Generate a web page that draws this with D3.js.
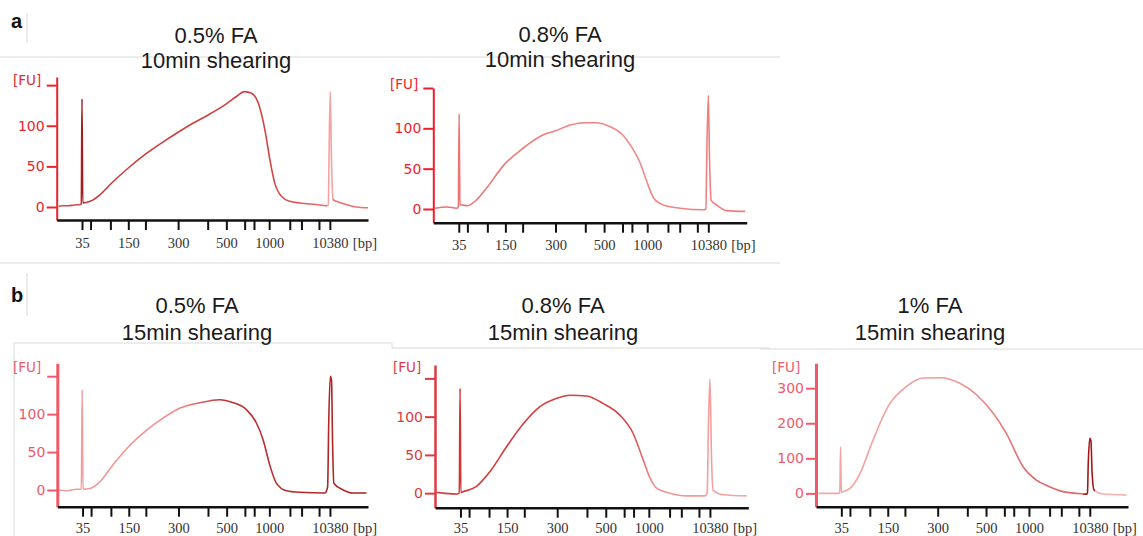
<!DOCTYPE html>
<html>
<head>
<meta charset="utf-8">
<script src="https://cdn.jsdelivr.net/npm/d3@7"></script>
<style>
  body { margin: 0; background: #fff; }
  svg { display: block; }
</style>
</head>
<body>
<svg id="chart" width="1143" height="536"></svg>
<script>
// ladder peaks: size (bp) and migration time (s)
const ladderBp = [35, 50, 100, 150, 200, 300, 400, 500, 600, 700, 1000, 2000, 3000, 7000, 10380]
const ladderTime = [46.5, 48.7, 53.8, 58.4, 62.8, 71.2, 78.8, 83.6, 88.3, 90.7, 94.6, 99.9, 102.9, 107.4, 110.2]
const labeledBp = [35, 150, 300, 500, 1000, 10380]

const sectionLabels = ["a", "b"]
const titleLines = [
	["0.5% FA", "10min shearing"],
	["0.8% FA", "10min shearing"],
	["0.5% FA", "15min shearing"],
	["0.8% FA", "15min shearing"],
	["1% FA", "15min shearing"]
]

// [time s, FU]
const traceA1 = [[40.5, 1], [41.3, 1.6], [43, 1.5], [44.5, 2.5], [46.0, 3], [46.3, 3.5], [46.5, 133], [46.7, 5], [48.6, 7],
	[51.1, 15], [53.8, 28], [58.4, 48], [62.8, 65], [67, 79], [71.2, 92], [75, 103], [78.8, 113], [83.6, 127], [86.2, 136],
	[88.3, 142], [90.1, 140], [91.8, 128], [93.5, 95], [94.8, 58], [96.0, 30], [97.8, 13], [99.9, 7], [102.5, 5],
	[106.7, 3], [109.3, 1.6], [109.8, 2], [110.0, 68], [110.3, 142], [110.6, 62], [111.0, 9], [111.9, 7], [114.4, 3],
	[117, 0], [120, -1]]
const traceA2 = [[40.4, 1], [43.4, 2.5], [46.0, 1], [46.4, 3], [46.6, 118], [46.8, 5], [47.2, 5], [48.7, 4], [51.1, 11.5],
	[53.6, 26], [58.1, 55], [62.8, 75], [68.1, 92], [71.2, 97], [74.9, 104], [78.6, 107], [81.7, 107], [85.1, 102],
	[88.3, 92], [90.6, 77], [92.8, 57], [94.5, 34], [96.2, 14], [98.7, 5], [103.0, 1], [108.9, -1], [109.6, 0],
	[109.8, 65], [110.2, 141], [110.5, 65], [110.9, 11], [112.3, 5], [114.9, -2], [119.6, -3]]
const traceB1 = [[40.3, 0], [42.4, -1], [45.0, 1], [46.2, 1], [46.4, 132], [46.6, 1], [48.4, 2], [51.0, 11], [54.0, 31],
	[58.7, 59], [63.0, 79], [67.3, 95], [71.6, 108], [76.7, 115], [81.8, 119], [85.3, 115], [88.7, 106], [91.3, 88],
	[93.0, 66], [94.7, 33], [96.4, 9], [99.0, -1], [102.4, -3], [108.9, -4], [109.6, 4], [109.9, 92], [110.3, 150],
	[110.6, 145], [110.9, 57], [111.2, 9], [113.6, 0], [116.1, -4], [119.6, -4]]
const traceB2 = [[40.4, 1], [45.5, -1], [46.2, 0], [46.4, 137], [46.6, 1], [47.2, 2], [50.6, 9], [54.0, 28], [58.3, 61],
	[62.6, 91], [66.8, 113], [71.1, 124], [74.5, 128], [78.7, 127], [83.0, 117], [87.2, 102], [90.6, 78], [93.2, 43],
	[94.9, 20], [96.6, 6.5], [100.0, 0], [104.3, -3.5], [108.9, -3.5], [109.5, 0], [109.8, 83], [110.2, 149],
	[110.6, 48], [111.0, 4], [113.6, -2], [119.6, -3.5]]
const traceB3 = [[40.6, 0], [45.7, 0], [46.1, 2], [46.3, 133], [46.5, 3], [47.0, 5], [48.7, 14], [51.3, 57], [54.3, 143],
	[58.5, 248], [63.2, 305], [67.5, 329], [71.8, 330], [76.9, 314], [81.2, 281], [85.4, 229], [88.8, 171], [93.1, 76],
	[96.5, 38], [99.9, 19], [103.3, 5], [106.8, 0], [109.3, -2], [109.6, 0], [109.8, 81], [110.2, 157], [110.5, 150],
	[110.8, 57], [111.3, 9], [113.6, -2], [119.6, -5]]

const traces = [traceA1, traceA2, traceB1, traceB2, traceB3]
const yTicksSmall = [0, 50, 100, 150]
const yTicksLarge = [0, 100, 200, 300]

// layout / styling for each panel
const panels = [
	{left: 56.7, right: 368, top: 77, axisY: 220, yDomain: [-16, 160], ticks: yTicksSmall, hideTop: true,
		fu: [13, 85], title: [216, 43, 68], labelY: 248, axisColor: "#e8242c", axisW: 2,
		stops: [[40, "#d04848"], [46.2, "#d04848"], [46.2, "#a02020"], [46.9, "#a02020"], [46.9, "#c83c3c"],
			[95, "#d04444"], [109.5, "#e67070"], [109.5, "#f5a2a2"], [111, "#f5a2a2"], [111, "#e87070"], [120, "#e87070"]]},
	{left: 433.3, right: 746.7, top: 88, axisY: 222.7, yDomain: [-17, 150], ticks: yTicksSmall, hideTop: true,
		fu: [390, 89], title: [560, 42, 67], labelY: 250, axisColor: "#f01e2a", axisW: 2,
		stops: [[40, "#ee7070"], [60, "#f07878"], [90, "#f28a8a"], [120, "#f07a7a"]]},
	{left: 57.3, right: 368, top: 363.3, axisY: 506.7, yDomain: [-22, 167], ticks: yTicksSmall, hideTop: true,
		fu: [13, 372], title: [197, 313, 340], labelY: 533, axisColor: "#f05a68", axisW: 3,
		stops: [[40, "#f2a0a0"], [72, "#f08888"], [82, "#c23434"], [120, "#a82222"]]},
	{left: 435, right: 748.3, top: 365, axisY: 507.7, yDomain: [-19, 167.5], ticks: yTicksSmall, hideTop: true,
		fu: [393, 372], title: [563, 313, 340], labelY: 533, axisColor: "#dc3a44", axisW: 2.5,
		stops: [[40, "#d84848"], [46.2, "#d43030"], [47, "#d43838"], [90, "#d64444"], [96, "#f09090"],
			[120, "#f7a8a8"]]},
	{left: 816, right: 1128, top: 363.3, axisY: 506.7, yDomain: [-38, 371], ticks: yTicksLarge, hideTop: false,
		fu: [772, 372], title: [930, 313, 340], labelY: 533, axisColor: "#f05a6a", axisW: 3,
		stops: [[40, "#f5aaaa"], [80, "#f09292"], [95, "#e06666"], [108.5, "#e06666"], [108.5, "#a01818"],
			[111.6, "#a01818"], [111.6, "#f6b0b0"], [120, "#f6b0b0"]]}
]

const svg = d3.select("#chart")
svg.append("rect").attr("width", 1143).attr("height", 536).attr("fill", "#fff")

// frames from the pasted screenshots
const frame = svg.append("g").attr("stroke", "#d9d9d9").attr("stroke-width", 1).attr("fill", "none")
frame.append("path").attr("d", "M0,57H780 M0,263H780 M27,13V43 M27,273V316 M14,536V343H392V348H770 M760,349H1143")

svg.selectAll(".section")
	.data(sectionLabels)
	.join("text")
		.attr("x", 11)
		.attr("y", (d, i) => i ? 302 : 28)
		.attr("font-family", "Liberation Sans, Arial, sans-serif")
		.attr("font-weight", "bold")
		.attr("font-size", 20)
		.attr("fill", "#111")
		.text(d => d)

const lineGen = d3.line().curve(d3.curveMonotoneX)

panels.forEach((p, i) => {
	const g = svg.append("g")
	const x = d3.scaleLinear().domain([40, 120]).range([p.left, p.right])
	const y = d3.scaleLinear().domain(p.yDomain).range([p.axisY, p.top])

	// titles
	g.selectAll(".title")
		.data(titleLines[i])
		.join("text")
			.attr("x", p.title[0])
			.attr("y", (d, j) => p.title[1 + j])
			.attr("text-anchor", "middle")
			.attr("font-family", "Liberation Sans, Arial, sans-serif")
			.attr("font-size", 22)
			.attr("fill", "#1a1a1a")
			.text(d => d)

	// trace colour along x
	const gradId = "grad" + i
	const grad = svg.append("defs").append("linearGradient")
		.attr("id", gradId)
		.attr("gradientUnits", "userSpaceOnUse")
		.attr("x1", x(40)).attr("x2", x(120)).attr("y1", 0).attr("y2", 0)
	grad.selectAll("stop")
		.data(p.stops)
		.join("stop")
			.attr("offset", d => (d[0] - 40) / 80)
			.attr("stop-color", d => d[1])

	g.append("path")
		.datum(traces[i])
		.attr("d", lineGen.x(d => x(d[0])).y(d => y(d[1])))
		.attr("fill", "none")
		.attr("stroke", `url(#${gradId})`)
		.attr("stroke-width", 1.6)
		.attr("stroke-linejoin", "round")

	// y axis
	const yAxis = g.append("g")
		.attr("transform", `translate(${p.left},0)`)
		.call(d3.axisLeft(y)
			.tickValues(p.ticks)
			.tickSize(10)
			.tickSizeOuter(0)
			.tickFormat(d => (p.hideTop && d === 150) ? "" : d))
	yAxis.select(".domain").attr("stroke", p.axisColor).attr("stroke-width", p.axisW)
	yAxis.selectAll(".tick line").attr("stroke", p.axisColor).attr("stroke-width", 2)
	yAxis.selectAll(".tick text")
		.attr("fill", p.axisColor)
		.attr("font-family", "DejaVu Sans, Verdana, sans-serif")
		.attr("font-size", 14)
		.attr("x", -12)

	g.append("text")
		.attr("x", p.fu[0])
		.attr("y", p.fu[1])
		.attr("fill", p.axisColor)
		.attr("font-family", "DejaVu Sans, Verdana, sans-serif")
		.attr("font-size", 13.5)
		.text("[FU]")

	// x axis with ladder sizes
	const xAxis = g.append("g")
		.attr("transform", `translate(0,${p.axisY})`)
		.call(d3.axisBottom(x)
			.tickValues(ladderTime)
			.tickSize(10)
			.tickSizeOuter(0)
			.tickFormat((d, j) => labeledBp.includes(ladderBp[j]) ? ladderBp[j] : ""))
	xAxis.select(".domain").attr("stroke", "#111").attr("stroke-width", 2.5)
	xAxis.selectAll(".tick line").attr("stroke", "#111").attr("stroke-width", 2)
	xAxis.selectAll(".tick text")
		.attr("y", p.labelY - p.axisY)
		.attr("dy", 0)
		.attr("fill", "#333")
		.attr("font-family", "Liberation Serif, Times New Roman, serif")
		.attr("font-size", 14.5)

	g.append("text")
		.attr("x", x(ladderTime[ladderTime.length - 1]) + 23)
		.attr("y", p.labelY)
		.attr("fill", "#333")
		.attr("font-family", "Liberation Serif, Times New Roman, serif")
		.attr("font-size", 14.5)
		.text("[bp]")
})
</script>
</body>
</html>
